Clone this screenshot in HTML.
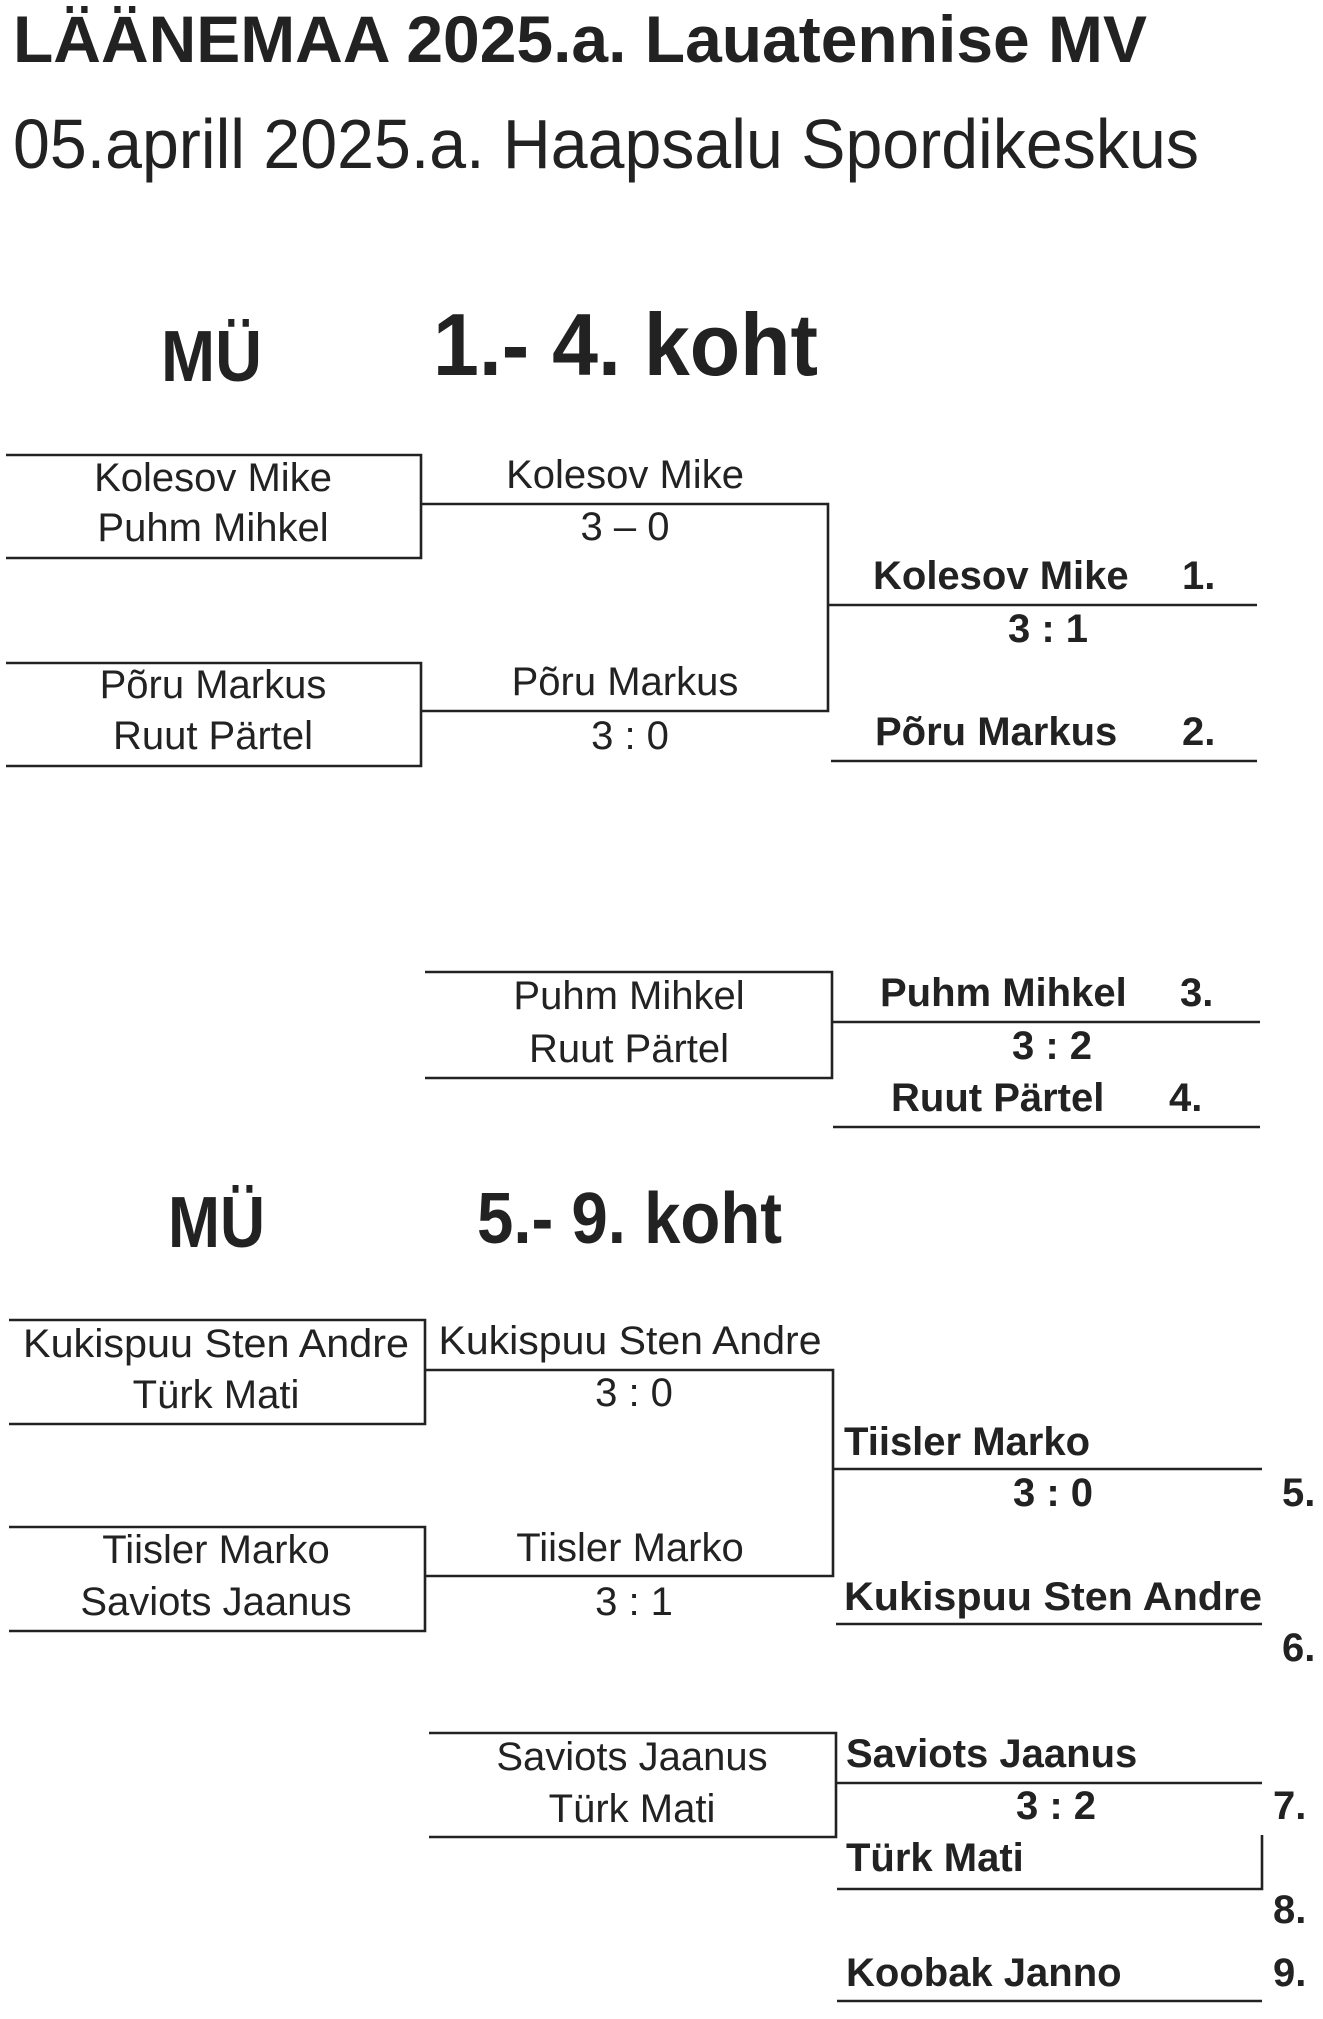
<!DOCTYPE html>
<html><head><meta charset="utf-8"><style>
html,body{margin:0;padding:0;background:#fff;}
svg{display:block;}
text{font-family:"Liberation Sans",Arial,sans-serif;fill:#222;}
.r{font-size:40px;}
.b{font-size:40px;font-weight:bold;}
.c{text-anchor:middle;}
line,polyline{stroke:#222;stroke-width:2.6;fill:none;}
</style></head><body>
<svg width="1323" height="2019" viewBox="0 0 1323 2019" xmlns="http://www.w3.org/2000/svg">
<text x="13" y="62" font-size="66" font-weight="bold" textLength="1134" lengthAdjust="spacingAndGlyphs">LÄÄNEMAA 2025.a. Lauatennise MV</text>
<text x="13" y="168" font-size="70" textLength="1186" lengthAdjust="spacingAndGlyphs">05.aprill 2025.a. Haapsalu Spordikeskus</text>

<text x="161" y="381" font-size="72" font-weight="bold" textLength="101" lengthAdjust="spacingAndGlyphs">MÜ</text>
<text x="433" y="375" font-size="88" font-weight="bold" textLength="385" lengthAdjust="spacingAndGlyphs">1.- 4. koht</text>

<!-- bracket 1 -->
<polyline points="6,455 421,455 421,558 6,558"/>
<text class="r c" x="213" y="491">Kolesov Mike</text>
<text class="r c" x="213" y="541">Puhm Mihkel</text>
<polyline points="6,663 421,663 421,766 6,766"/>
<text class="r c" x="213" y="698">Põru Markus</text>
<text class="r c" x="213" y="749">Ruut Pärtel</text>
<polyline points="421,504 828,504 828,711 421,711"/>
<text class="r c" x="625" y="488">Kolesov Mike</text>
<text class="r c" x="625" y="540">3 – 0</text>
<text class="r c" x="625" y="695">Põru Markus</text>
<text class="r c" x="630" y="749">3 : 0</text>
<line x1="828" y1="605" x2="1257" y2="605"/>
<text class="b" x="873" y="589">Kolesov Mike</text>
<text class="b" x="1182" y="589">1.</text>
<text class="b c" x="1048" y="642">3 : 1</text>
<text class="b" x="875" y="745">Põru Markus</text>
<text class="b" x="1182" y="745">2.</text>
<line x1="831" y1="761" x2="1257" y2="761"/>

<!-- 3-4 -->
<polyline points="425,972 832,972 832,1078 425,1078"/>
<text class="r c" x="629" y="1009">Puhm Mihkel</text>
<text class="r c" x="629" y="1062">Ruut Pärtel</text>
<line x1="832" y1="1022" x2="1260" y2="1022"/>
<text class="b" x="880" y="1006">Puhm Mihkel</text>
<text class="b" x="1180" y="1006">3.</text>
<text class="b c" x="1052" y="1059">3 : 2</text>
<text class="b" x="891" y="1111">Ruut Pärtel</text>
<text class="b" x="1169" y="1111">4.</text>
<line x1="833" y1="1127" x2="1260" y2="1127"/>

<text x="168" y="1247" font-size="72" font-weight="bold" textLength="97" lengthAdjust="spacingAndGlyphs">MÜ</text>
<text x="477" y="1243" font-size="72" font-weight="bold" textLength="305" lengthAdjust="spacingAndGlyphs">5.- 9. koht</text>

<!-- bracket 2 -->
<polyline points="9,1320 425,1320 425,1424 9,1424"/>
<text class="r c" x="216" y="1357" textLength="386" lengthAdjust="spacingAndGlyphs">Kukispuu Sten Andre</text>
<text class="r c" x="216" y="1408">Türk Mati</text>
<polyline points="9,1527 425,1527 425,1631 9,1631"/>
<text class="r c" x="216" y="1563">Tiisler Marko</text>
<text class="r c" x="216" y="1615">Saviots Jaanus</text>
<polyline points="425,1370 833,1370 833,1576 425,1576"/>
<text class="r c" x="630" y="1354" textLength="383" lengthAdjust="spacingAndGlyphs">Kukispuu Sten Andre</text>
<text class="r c" x="634" y="1406">3 : 0</text>
<text class="r c" x="630" y="1561">Tiisler Marko</text>
<text class="r c" x="634" y="1615">3 : 1</text>
<line x1="833" y1="1469" x2="1262" y2="1469"/>
<text class="b" x="844" y="1455">Tiisler Marko</text>
<text class="b c" x="1053" y="1506">3 : 0</text>
<text class="b" x="1282" y="1506">5.</text>
<text class="b" x="844" y="1610" textLength="418" lengthAdjust="spacingAndGlyphs">Kukispuu Sten Andre</text>
<line x1="836" y1="1624" x2="1262" y2="1624"/>
<text class="b" x="1282" y="1661">6.</text>

<polyline points="429,1733 836,1733 836,1837 429,1837"/>
<text class="r c" x="632" y="1770">Saviots Jaanus</text>
<text class="r c" x="632" y="1822">Türk Mati</text>
<line x1="836" y1="1783" x2="1262" y2="1783"/>
<text class="b" x="846" y="1767">Saviots Jaanus</text>
<text class="b c" x="1056" y="1819">3 : 2</text>
<text class="b" x="1273" y="1819">7.</text>
<text class="b" x="846" y="1871">Türk Mati</text>
<polyline points="1262,1835 1262,1889 837,1889"/>
<text class="b" x="1273" y="1923">8.</text>
<text class="b" x="846" y="1986">Koobak Janno</text>
<text class="b" x="1273" y="1986">9.</text>
<line x1="837" y1="2001" x2="1262" y2="2001"/>
</svg>
</body></html>
